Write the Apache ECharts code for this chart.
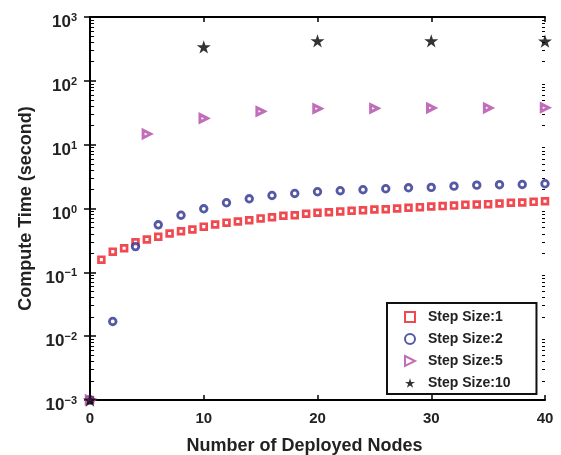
<!DOCTYPE html>
<html>
<head>
<meta charset="utf-8">
<script src="https://cdn.jsdelivr.net/npm/echarts@6/dist/echarts.min.js"></script>
<style>html,body{margin:0;padding:0;background:#fff}#c{width:561px;height:455px}</style>
</head>
<body>
<div id="c"></div>
<script>
// ---- data ----
var xStep1 = [0,1,2,3,4,5,6,7,8,9,10,11,12,13,14,15,16,17,18,19,20,21,22,23,24,25,26,27,28,29,30,31,32,33,34,35,36,37,38,39,40];
var yStep1 = [0.001,0.158,0.211,0.238,0.296,0.326,0.36,0.405,0.44,0.468,0.52,0.56,0.60,0.625,0.655,0.70,0.73,0.77,0.785,0.826,0.856,0.875,0.90,0.92,0.94,0.965,0.975,1.0,1.025,1.05,1.075,1.09,1.11,1.14,1.155,1.17,1.2,1.23,1.24,1.27,1.30];
var xStep2 = [0,2,4,6,8,10,12,14,16,18,20,22,24,26,28,30,32,34,36,38,40];
var yStep2 = [0.001,0.017,0.253,0.555,0.785,0.99,1.23,1.42,1.6,1.72,1.83,1.90,1.97,2.04,2.11,2.14,2.24,2.32,2.36,2.38,2.44];
var xStep5 = [0,5,10,15,20,25,30,35,40];
var yStep5 = [0.001,14.7,25.9,33.3,36.7,37.1,37.6,37.6,38];
var xStep10 = [0,10,20,30,40];
var yStep10 = [0.001,340,423,423,418];
var seriesNames = ['Step Size:1','Step Size:2','Step Size:5','Step Size:10'];
var xTicks = [0,10,20,30,40];
var yMajor = [0.001,0.01,0.1,1,10,100,1000];
var yMinor = [];
for (var e = -3; e < 3; e++) { for (var m = 2; m <= 9; m++) { yMinor.push(m * Math.pow(10, e)); } }

function pairs(xs, ys) { return xs.map(function (x, i) { return [x, ys[i]]; }); }

var STAR = 'path://M100,0 L122.45,69.1 L195.1,69.1 L136.3,111.8 L158.8,180.9 L100,138.2 L41.2,180.9 L63.7,111.8 L4.9,69.1 L77.55,69.1 Z';
var TRI_RIGHT = 'path://M0,0 L10,5 L0,10 Z';
var FONT = '"Liberation Sans", Arial, sans-serif';
var TXT = '#222';

var chart = echarts.init(document.getElementById('c'), null, { renderer: 'canvas' });

function yAx(grid, pos, show, ticks, len, labels) {
  return {
    type: 'log', logBase: 10, min: 0.001, max: 1000, position: pos, gridIndex: grid,
    axisLine: { show: show, lineStyle: { color: '#000', width: 2 } },
    axisTick: { show: true, inside: true, length: len, customValues: ticks, lineStyle: { color: '#000', width: len > 4 ? 1.5 : 1 } },
    axisLabel: labels ? {
      show: true, customValues: yMajor, margin: 13, color: TXT, padding: [11, 0, 0, 0],
      formatter: function (v) { var ex = Math.round(Math.log10(v)); return '{b|10}{s|' + (ex < 0 ? '\u2212' + (-ex) : ex) + '}'; },
      rich: {
        b: { fontFamily: FONT, fontWeight: 'bold', fontSize: 17, color: TXT },
        s: { fontFamily: FONT, fontWeight: 'bold', fontSize: 11, color: TXT, padding: [0, 0, 9, 0] }
      }
    } : { show: false },
    splitLine: { show: false },
    name: labels ? 'Compute Time (second)' : '',
    nameLocation: 'middle', nameGap: 54,
    nameTextStyle: { fontFamily: FONT, fontWeight: 'bold', fontSize: 18, color: TXT }
  };
}

var gridRect = { left: 90, right: 16, top: 17, bottom: 55, containLabel: false, outerBoundsMode: 'none' };

chart.setOption({
  backgroundColor: '#fff',
  animation: false,
  grid: [Object.assign({}, gridRect), Object.assign({}, gridRect)],
  legend: {
    orient: 'vertical', left: 387, top: 303,
    data: [
      { name: seriesNames[0] },
      { name: seriesNames[1] },
      { name: seriesNames[2], icon: TRI_RIGHT },
      { name: seriesNames[3] }
    ],
    itemWidth: 10, itemHeight: 10, itemGap: 8,
    padding: [7, 26, 4, 17],
    borderColor: '#111', borderWidth: 2, backgroundColor: '#fff',
    textStyle: { fontFamily: FONT, fontWeight: 'bold', fontSize: 14, color: TXT, padding: [0, 0, 0, 8] }
  },
  xAxis: [
    {
      type: 'value', min: 0, max: 40, interval: 10, position: 'bottom', gridIndex: 0,
      axisLine: { show: true, lineStyle: { color: '#000', width: 2 } },
      axisTick: { show: true, inside: true, length: 5, lineStyle: { color: '#000', width: 1.5 } },
      axisLabel: { margin: 11, fontFamily: FONT, fontWeight: 'bold', fontSize: 15, color: TXT },
      splitLine: { show: false },
      name: 'Number of Deployed Nodes', nameLocation: 'middle', nameGap: 37,
      nameTextStyle: { fontFamily: FONT, fontWeight: 'bold', fontSize: 18, color: TXT, padding: [0, 26, 0, 0] }
    },
    {
      type: 'value', min: 0, max: 40, interval: 10, position: 'top', gridIndex: 0,
      axisLine: { show: true, lineStyle: { color: '#000', width: 2 } },
      axisTick: { show: true, inside: true, length: 5, lineStyle: { color: '#000', width: 1.5 } },
      axisLabel: { show: false }, splitLine: { show: false }
    },
    {
      type: 'value', min: 0, max: 40, gridIndex: 1, show: false
    }
  ],
  yAxis: [
    yAx(0, 'left', true, yMajor, 6, true),
    yAx(0, 'right', true, yMajor, 6, false),
    yAx(1, 'left', false, yMinor, 4, false),
    yAx(1, 'right', false, yMinor, 3, false)
  ],
  series: [
    {
      name: seriesNames[0], type: 'scatter', data: pairs(xStep1, yStep1),
      xAxisIndex: 0, yAxisIndex: 0,
      symbol: 'rect', symbolSize: 5.8,
      itemStyle: { color: '#fff', borderColor: '#ec1c24', borderWidth: 2.7 }, z: 2
    },
    {
      name: seriesNames[1], type: 'scatter', data: pairs(xStep2, yStep2),
      xAxisIndex: 0, yAxisIndex: 0,
      symbol: 'circle', symbolSize: 6.6,
      itemStyle: { color: '#fff', borderColor: '#2b2f8f', borderWidth: 2.8 }, z: 3
    },
    {
      name: seriesNames[2], type: 'scatter', data: pairs(xStep5, yStep5),
      xAxisIndex: 0, yAxisIndex: 0,
      symbol: 'triangle', symbolRotate: -90, symbolSize: 7.5,
      itemStyle: { color: '#fff', borderColor: '#b04aa8', borderWidth: 3 }, z: 4
    },
    {
      name: seriesNames[3], type: 'scatter', data: pairs(xStep10, yStep10),
      xAxisIndex: 0, yAxisIndex: 0,
      symbol: STAR, symbolSize: 14, symbolKeepAspect: true,
      itemStyle: { color: '#000' }, z: 5
    }
  ]
});
</script>
</body>
</html>
